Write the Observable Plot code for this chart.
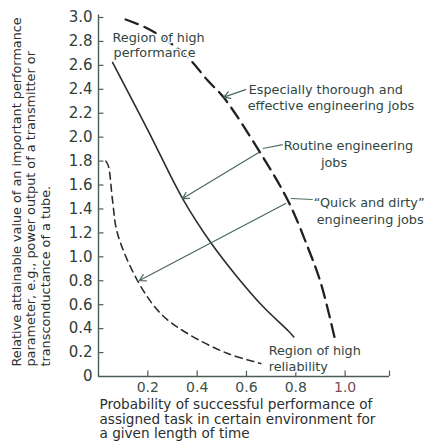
<!DOCTYPE html>
<html>
<head>
<meta charset="utf-8">
<script src="https://cdn.jsdelivr.net/npm/d3@7"></script>
<script src="https://cdn.jsdelivr.net/npm/@observablehq/plot@0.6"></script>
<style>
  html, body { margin: 0; padding: 0; background: #fff; }
</style>
</head>
<body>
<div id="chart"></div>
<script>
// ---- data ----
const xTicks = [0.2, 0.4, 0.6, 0.8, 1.0];
const xTickLabels = ["0.2", "0.4", "0.6", "0.8", "1.0"];
const yTicks = [0, 0.2, 0.4, 0.6, 0.8, 1.0, 1.2, 1.4, 1.6, 1.8, 2.0, 2.2, 2.4, 2.6, 2.8, 3.0];
const yTickLabels = ["0", "0.2", "0.4", "0.6", "0.8", "1.0", "1.2", "1.4", "1.6", "1.8", "2.0", "2.2", "2.4", "2.6", "2.8", "3.0"];

// Routine engineering jobs (solid)
const routineX = [0.057, 0.199, 0.341, 0.455, 0.565, 0.671, 0.770, 0.792];
const routineY = [2.624, 2.064, 1.487, 1.120, 0.826, 0.576, 0.380, 0.330];

// Especially thorough and effective engineering jobs (long dash)
const thoroughX = [0.110, 0.199, 0.290, 0.374, 0.443, 0.508, 0.650, 0.768, 0.849, 0.902, 0.962];
const thoroughY = [2.983, 2.908, 2.790, 2.641, 2.473, 2.331, 1.889, 1.471, 1.078, 0.777, 0.284];

// "Quick and dirty" engineering jobs (short dash)
const quickX = [0.030, 0.040, 0.057, 0.077, 0.158, 0.252, 0.361, 0.524, 0.658];
const quickY = [1.800, 1.760, 1.471, 1.195, 0.802, 0.526, 0.359, 0.192, 0.109];

// annotation lines
const annText = ["Region of high", "performance",
                 "Especially thorough and", "effective engineering jobs",
                 "Routine engineering", "jobs",
                 "\u201CQuick and dirty\u201D", "engineering jobs",
                 "Region of high", "reliability"];
const annX = [0.057, 0.061, 0.609, 0.605, 0.751, 0.902, 0.873, 0.885, 0.690, 0.690];
const annY = [2.833, 2.707, 2.398, 2.265, 1.930, 1.788, 1.454, 1.312, 0.217, 0.084];

// arrows between curves (from -> to)
const arrowX1 = [0.650, 0.759, 0.597];
const arrowY1 = [1.872, 1.446, 2.398];
const arrowX2 = [0.341, 0.166, 0.508];
const arrowY2 = [1.487, 0.802, 2.335];

// short leader lines from labels
const leaderX1 = [0.747, 0.869];
const leaderY1 = [1.938, 1.479];
const leaderX2 = [0.666, 0.780];
const leaderY2 = [1.905, 1.487];

const xLabel = ["Probability of successful performance of",
                "assigned task in certain environment for",
                "a given length of time"];
const yLabel = ["Relative attainable value of an important performance",
                "parameter, e.g., power output of a transmitter or",
                "transconductance of a tube."];

// ---- build ----
const pts = (xs, ys) => xs.map((x, i) => ({x, y: ys[i]}));
const ink = "#2a2e2d";
const txt = "#30463f";
const green = "#4d6a61";

const chart = Plot.plot({
  width: 433,
  height: 442,
  marginLeft: 98,
  marginRight: 44,
  marginTop: 17,
  marginBottom: 66,
  x: {domain: [0, 1.18], axis: null},
  y: {domain: [0, 3], axis: null},
  style: {fontFamily: "DejaVu Sans, sans-serif", background: "#fff", overflow: "visible"},
  marks: [
    // axes
    Plot.ruleX([0], {y1: 0, y2: 3.02, stroke: "#4b5c57", strokeWidth: 1.4}),
    Plot.ruleY([0], {x1: 0, x2: 1.18, stroke: "#4b5c57", strokeWidth: 1.4}),
    Plot.ruleY(yTicks.slice(1), {x1: 0, x2: 0.022, stroke: "#4b5c57", strokeWidth: 1.2}),
    Plot.ruleX(xTicks.concat([1.18]), {y1: 0, y2: 0.045, stroke: "#4b5c57", strokeWidth: 1.2}),
    Plot.text(yTicks, {x: 0, y: d => d, text: (d, i) => yTickLabels[i], textAnchor: "end", dx: -6, fontSize: 15, fill: "#2f3d39"}),
    Plot.text(xTicks, {x: d => d, y: 0, text: (d, i) => xTickLabels[i], dy: 11, fontSize: 14,
      fill: (d, i) => (d === 1 ? "#7d4a5c" : "#3d4f49")}),

    // curves
    Plot.line(pts(quickX, quickY), {x: "x", y: "y", curve: "catmull-rom", stroke: ink, strokeWidth: 1.6, strokeDasharray: "7,5"}),
    Plot.line(pts(routineX, routineY), {x: "x", y: "y", curve: "catmull-rom", stroke: ink, strokeWidth: 1.6}),
    Plot.line(pts(thoroughX, thoroughY), {x: "x", y: "y", curve: "catmull-rom", stroke: "#1e2221", strokeWidth: 2.3, strokeDasharray: "13,7"}),

    // arrows & leaders
    Plot.arrow(arrowX1, {x1: d => d, y1: (d, i) => arrowY1[i], x2: (d, i) => arrowX2[i], y2: (d, i) => arrowY2[i],
      stroke: green, strokeWidth: 1.3, headLength: 8}),
    Plot.link(leaderX1, {x1: d => d, y1: (d, i) => leaderY1[i], x2: (d, i) => leaderX2[i], y2: (d, i) => leaderY2[i],
      stroke: green, strokeWidth: 1.1}),

    // annotation text
    Plot.text(annText, {x: (d, i) => annX[i], y: (d, i) => annY[i], text: d => d, textAnchor: "start",
      fontSize: 12.8, fill: txt, stroke: "#fff", strokeWidth: 3, paintOrder: "stroke"}),

    // axis titles
    Plot.text([xLabel.join("\n")], {frameAnchor: "bottom-left", text: d => d, textAnchor: "start", lineAnchor: "top",
      dx: 1, dy: 22, fontSize: 13.6, lineHeight: 1.08, fill: "#2a2f2e"}),
    Plot.text([yLabel.join("\n")], {frameAnchor: "bottom-left", text: d => d, textAnchor: "start", lineAnchor: "middle",
      rotate: -90, dx: -68, dy: -10, fontSize: 12.8, lineHeight: 1.13, fill: "#2a2f2e"})
  ]
});
document.getElementById("chart").appendChild(chart);
</script>
</body>
</html>
